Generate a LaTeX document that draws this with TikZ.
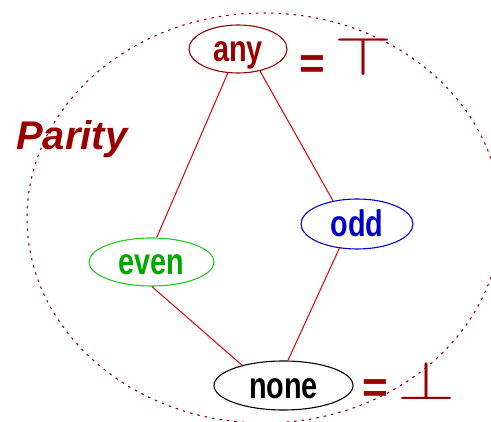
\documentclass[tikz,border=0pt]{standalone}
\usepackage{fontspec}
\setmainfont{Liberation Sans}
\newfontfamily\condfont[FakeStretch=0.78]{Liberation Sans Bold}
\usetikzlibrary{shapes.geometric}
\definecolor{dred}{HTML}{990000}
\definecolor{lred}{HTML}{DD1111}
\definecolor{tgreen}{HTML}{00A800}
\definecolor{bgreen}{HTML}{22CC22}
\definecolor{tblue}{HTML}{0000CC}
\tikzset{
  lat/.style={ellipse, draw, line width=1.1pt, inner sep=0pt,
    text height=26pt, text depth=0pt,
    font=\condfont\fontsize{37}{37}\selectfont},
  edge/.style={draw=lred, line width=1.1pt},
  eqsign/.style={inner sep=0pt, anchor=base, text=dred,
    font=\bfseries\fontsize{44}{44}\selectfont},
  topbot/.style={inner sep=0pt, text=dred}
}
\begin{document}
\begin{tikzpicture}[x=1pt,y=-1pt]
\useasboundingbox (0,0) rectangle (491,422);
\draw[dred, line width=1.1pt, dash pattern=on 2.5pt off 5pt] (264,218) ellipse [x radius=237, y radius=205];
\node[anchor=base west, inner sep=0pt, text=dred, font=\bfseries\itshape\fontsize{40}{40}\selectfont] (par) at (16,150) {Parity};
\node[lat, draw=dred, text=dred, minimum width=98pt, minimum height=48pt] (any) at (238,49) {any};
\node[lat, draw=bgreen, text=tgreen, minimum width=125pt, minimum height=48pt] (even) at (151.5,262) {even};
\node[lat, draw=tblue, text=tblue, minimum width=112pt, minimum height=50pt] (odd) at (357,224) {odd};
\node[lat, draw=black, text=black, minimum width=139pt, minimum height=49pt] (none) at (283.5,385.5) {none};
\draw[edge] (any.247) -- (even.78);
\draw[edge] (any.315) -- (odd.136);
\draw[edge] (odd.234) -- (none.80);
\draw[edge] (even.271) -- (none.154);
\node[eqsign] (eq1) at (312.5,79) {=};
\node[eqsign] (eq2) at (375,403) {=};
\node[topbot] (top) at (363,56) {\resizebox{58pt}{38pt}{$\top$}};
\node[topbot] (bot) at (426,380) {\resizebox{58pt}{38pt}{$\bot$}};
\end{tikzpicture}
\end{document}
